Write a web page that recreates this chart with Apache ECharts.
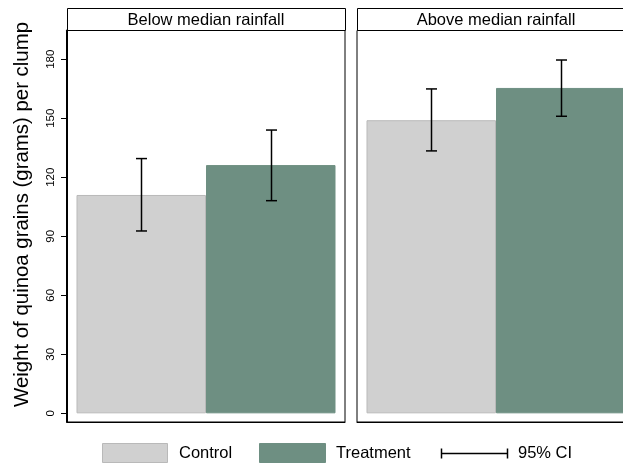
<!DOCTYPE html>
<html>
<head>
<meta charset="utf-8">
<script src="https://cdn.jsdelivr.net/npm/echarts@6/dist/echarts.min.js"></script>
<style>
  html, body { margin: 0; padding: 0; background: #fff; overflow: hidden; }
  #chart { width: 640px; height: 463px; }
</style>
</head>
<body>
<div id="chart"></div>
<script>
// Rainfall groups (one panel each)
const panels = ['Below median rainfall', 'Above median rainfall'];
const groups = ['Control', 'Treatment'];
// Mean grain weight per clump, per panel
const controlMean = [111.0, 149.0];
const treatmentMean = [126.2, 165.4];
// 95% confidence interval bounds
const controlLow = [92.7, 133.4];
const controlHigh = [129.5, 164.9];
const treatmentLow = [108.1, 151.0];
const treatmentHigh = [144.0, 179.6];
const yTicks = [0, 30, 60, 90, 120, 150, 180];

const FONT = '"Liberation Sans", Arial, sans-serif';
const BAR_W = 129.5;
const PANEL_W = 278, PANEL_GAP = 12, LEFT = 67, TOP = 30.5, HEIGHT = 391.5;
const colors = { Control: '#d0d0d0', Treatment: '#6e8f82' };
const borders = { Control: '#b9b9b9', Treatment: '#6e8f82' };

const chart = echarts.init(document.getElementById('chart'));

const grids = [], xAxes = [], yAxes = [], series = [], graphics = [];

panels.forEach((title, p) => {
  const left = LEFT + p * (PANEL_W + PANEL_GAP);
  grids.push({
    left: left, top: TOP, width: PANEL_W, height: HEIGHT,
    show: true, borderColor: '#000', borderWidth: 1, backgroundColor: '#fff'
  });
  xAxes.push({
    type: 'category', gridIndex: p, data: [title],
    axisLine: { show: true, onZero: false, lineStyle: { color: '#000', width: 1 } },
    axisTick: { show: false }, axisLabel: { show: false }, splitLine: { show: false }
  });
  yAxes.push({
    type: 'value', gridIndex: p, min: -4.4, max: 194.6,
    axisLine: { show: p === 0, onZero: false, lineStyle: { color: '#000', width: 2 } },
    axisTick: { show: p === 0, length: 6, lineStyle: { color: '#000' }, customValues: yTicks },
    axisLabel: {
      show: p === 0, rotate: 90, margin: 10, fontFamily: FONT, fontSize: 11.5, color: '#000',
      customValues: yTicks
    },
    splitLine: { show: false }
  });

  // strip heading above each panel
  graphics.push({
    type: 'rect', shape: { x: left + 0.5, y: 8.5, width: PANEL_W, height: 22 },
    style: { fill: '#fff', stroke: '#000', lineWidth: 1 }
  });
  graphics.push({
    type: 'text', x: left + PANEL_W / 2, y: 20,
    style: { text: title, fontFamily: FONT, fontSize: 16.5, fill: '#000', align: 'center', verticalAlign: 'middle' }
  });

  const means = { Control: controlMean[p], Treatment: treatmentMean[p] };
  groups.forEach((g) => {
    series.push({
      name: g, type: 'bar', xAxisIndex: p, yAxisIndex: p,
      data: [means[g]], barWidth: BAR_W, barGap: '0%',
      itemStyle: { color: colors[g], borderColor: borders[g], borderWidth: 1 },
      emphasis: { disabled: true }, animation: false
    });
  });

  // 95% CI whiskers drawn over each bar
  const ci = [
    [0, controlLow[p], controlHigh[p], -1],
    [0, treatmentLow[p], treatmentHigh[p], 1]
  ];
  series.push({
    name: '95% CI', type: 'custom', xAxisIndex: p, yAxisIndex: p, z: 5,
    data: ci, animation: false, silent: true,
    renderItem: function (params, api) {
      const side = api.value(3);
      const lo = api.coord([api.value(0), api.value(1)]);
      const hi = api.coord([api.value(0), api.value(2)]);
      const x = Math.round(lo[0] + side * BAR_W / 2) + 0.5;
      const cap = 5.5;
      const st = { stroke: '#000', lineWidth: 1.5 };
      return {
        type: 'group',
        children: [
          { type: 'line', shape: { x1: x, y1: lo[1], x2: x, y2: hi[1] }, style: st },
          { type: 'line', shape: { x1: x - cap, y1: lo[1], x2: x + cap, y2: lo[1] }, style: st },
          { type: 'line', shape: { x1: x - cap, y1: hi[1], x2: x + cap, y2: hi[1] }, style: st }
        ]
      };
    }
  });
});

// y-axis title
graphics.push({
  type: 'text', x: 22, y: 214.5, rotation: Math.PI / 2,
  style: { text: 'Weight of quinoa grains (grams) per clump', fontFamily: FONT, fontSize: 20.4,
    fill: '#000', align: 'center', verticalAlign: 'middle' }
});

// legend row
const legY = 453;
graphics.push({ type: 'rect', shape: { x: 102.5, y: 443.5, width: 65, height: 19 },
  style: { fill: colors.Control, stroke: borders.Control, lineWidth: 1 } });
graphics.push({ type: 'text', x: 179, y: legY,
  style: { text: 'Control', fontFamily: FONT, fontSize: 16.5, fill: '#000', verticalAlign: 'middle' } });
graphics.push({ type: 'rect', shape: { x: 259.5, y: 443.5, width: 66, height: 19 },
  style: { fill: colors.Treatment, stroke: borders.Treatment, lineWidth: 1 } });
graphics.push({ type: 'text', x: 336, y: legY,
  style: { text: 'Treatment', fontFamily: FONT, fontSize: 16.5, fill: '#000', verticalAlign: 'middle' } });
graphics.push({ type: 'group', children: [
  { type: 'line', shape: { x1: 441, y1: legY + 0.5, x2: 508, y2: legY + 0.5 }, style: { stroke: '#000', lineWidth: 1.5 } },
  { type: 'line', shape: { x1: 441.5, y1: legY - 4.5, x2: 441.5, y2: legY + 5.5 }, style: { stroke: '#000', lineWidth: 1.5 } },
  { type: 'line', shape: { x1: 507.5, y1: legY - 4.5, x2: 507.5, y2: legY + 5.5 }, style: { stroke: '#000', lineWidth: 1.5 } }
] });
graphics.push({ type: 'text', x: 518, y: legY,
  style: { text: '95% CI', fontFamily: FONT, fontSize: 16.5, fill: '#000', verticalAlign: 'middle' } });

chart.setOption({
  animation: false,
  backgroundColor: '#fff',
  grid: grids,
  xAxis: xAxes,
  yAxis: yAxes,
  series: series,
  graphic: graphics
});
</script>
</body>
</html>
